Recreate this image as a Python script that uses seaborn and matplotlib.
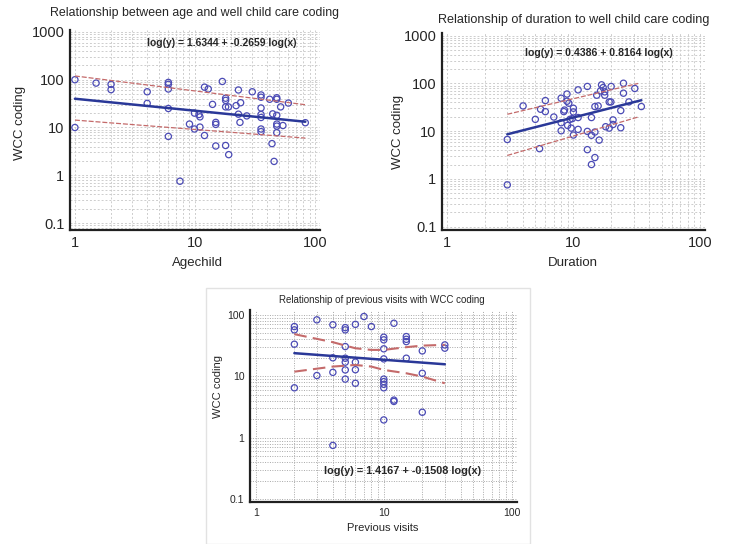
"""
WCC coding vs age, duration and previous visits (log-log fits)
"""

import numpy as np
import pandas as pd
import matplotlib as mpl
import matplotlib.pyplot as plt
import seaborn as sns

# ================================= #
# data
# ================================= #

age_x = [1, 1, 1.5, 2, 2, 4, 4, 6, 6, 6, 6, 6, 7.5, 9, 9.9, 9.9, 10.8, 11, 11, 12,
         12, 12.9, 14, 14.9, 14.9, 14.9, 16.9, 18, 18, 18, 18, 19, 19.1, 22, 23, 23,
         23.7, 24, 27, 30, 35.5, 35.5, 35.5, 35.5, 35.5, 35.5, 35.5, 41.9, 43.8, 44.4,
         45.6, 48, 48, 48, 48, 48, 48, 51.7, 54, 60, 83]
age_y = [100, 10, 85, 80, 62, 56, 32, 88, 80, 64, 25, 6.5, 0.75, 11.8, 20, 9.3, 18.7,
         16.7, 10.2, 70, 6.8, 64, 30.5, 12.8, 11.6, 4.1, 92, 41, 37, 27, 4.2, 27, 2.7,
         28.7, 61, 19, 12.8, 33, 17.5, 56, 48, 43, 25.6, 18.7, 16.2, 9.3, 8.2, 39, 4.6,
         19.3, 1.95, 42, 39, 18, 11.8, 10.7, 7.8, 27, 11, 32.5, 12.6]
age_fit_x = [1, 83]
age_fit_y = [40, 13.2]
age_upper = [120, 30]
age_lower = [14.3, 6.0]

dur_x = [3, 3, 4, 5, 5.4, 5.5, 6, 6, 7, 8, 8, 8, 8.4, 8.5, 8.9, 8.9, 9, 9.2, 9.4, 9.6,
         9.8, 10, 10, 10, 10.9, 10.9, 10.9, 12.9, 12.9, 12.9, 13.9, 13.9, 13.9, 14.8,
         14.8, 14.8, 15.3, 15.7, 16, 16.4, 16.7, 17.2, 17.7, 17.7, 18, 19.2, 19.2, 19.8,
         19.9, 20.6, 20.6, 23.7, 23.7, 24.9, 24.9, 27.5, 30.6, 34.5]
dur_y = [6.7, 0.75, 33.8, 17.7, 4.3, 28.8, 43.8, 25.7, 19.8, 49, 15, 10.2, 25.7, 27.7,
         60, 42.4, 13.2, 38.5, 17.7, 11.6, 18.3, 30.2, 25.3, 8.3, 73.4, 19.3, 10.9, 86.5,
         9.9, 4.1, 19.3, 8.2, 2.0, 32.8, 9.6, 2.8, 56.7, 33.8, 6.5, 70, 93.5, 82, 66.7,
         56.7, 12.4, 41, 11.6, 41, 86.5, 13.8, 17.2, 27, 11.8, 101, 62.5, 41, 78.5, 32.8]
dur_fit_x = [3, 34.5]
dur_fit_y = [8.6, 44.5]
dur_band_x = [3, 32.5]
dur_upper = [22.6, 100]
dur_lower = [3.1, 19.8]

vis_x = [2, 2, 2, 2, 3, 3, 4, 4, 4, 4, 5, 5, 5, 5, 5, 5, 5, 6, 6, 6, 6, 7, 8, 10, 10,
         10, 10, 10, 10, 10, 10, 10, 12, 12, 12, 15, 15, 15, 15, 20, 20, 20, 30, 30]
vis_y = [64.5, 57, 33.3, 6.5, 83, 10.3, 69, 20, 11.6, 0.75, 62, 57, 30.5, 19.7, 17,
         12.7, 9.0, 70, 17, 12.8, 7.7, 94, 64.5, 43.3, 39.2, 28, 19.2, 9.0, 8.2, 7.4,
         6.5, 1.95, 73, 4.1, 3.9, 44.3, 40, 36.7, 19.7, 25.9, 11.2, 2.6, 32.4, 28.7]
vis_fit_x = [2, 30]
vis_fit_y = [23.8, 15.7]
vis_band_x = [2, 4, 6, 8, 10, 15, 20, 30]
vis_upper = [48.5, 35.9, 28.6, 26.9, 26.9, 29.8, 31.6, 32.5]
vis_lower = [11.9, 14.4, 15.3, 14.4, 12.7, 11.2, 9.9, 7.7]

# ================================= #
# style
# ================================= #

sns.set_style('white')
plt.rcParams['font.family'] = ['Liberation Sans', 'DejaVu Sans']
mpl.rcParams['axes.unicode_minus'] = False

pt_color = '#4b4bb5'
fit_color = '#2a3898'
band_color = '#c46a6a'

fig = plt.figure(figsize=(7.5, 5.44), dpi=100)
W, H = 750., 544.


def px_axes(l, t, r, b):
    return fig.add_axes([l / W, 1 - b / H, (r - l) / W, (b - t) / H])


def setup_log(ax, xlim, ylim, yticks, fs, gridls, gridcol):
    ax.set_xscale('log')
    ax.set_yscale('log')
    ax.set(xlim=xlim, ylim=ylim)
    ax.set_xticks([1, 10, 100])
    ax.set_yticks(yticks)
    fmt = mpl.ticker.FuncFormatter(lambda v, pos: '{:g}'.format(v))
    ax.xaxis.set_major_formatter(fmt)
    ax.yaxis.set_major_formatter(fmt)
    ax.xaxis.set_minor_formatter(mpl.ticker.NullFormatter())
    ax.yaxis.set_minor_formatter(mpl.ticker.NullFormatter())
    ax.tick_params(which='both', direction='in', labelsize=fs, length=3,
                   width=0.8, pad=4)
    ax.tick_params(which='minor', length=2)
    ax.grid(True, which='both', linestyle=gridls, color=gridcol, linewidth=0.7)
    for side in ['top', 'right']:
        ax.spines[side].set_visible(False)
    for side in ['left', 'bottom']:
        ax.spines[side].set_color('#202020')
        ax.spines[side].set_linewidth(1.6)


def draw_panel(ax, x, y, fit_x, fit_y, band_x, up, lo, band_lw, band_ls):
    sns.scatterplot(x=x, y=y, ax=ax, marker='o', s=20, facecolor='none',
                    edgecolor=pt_color, linewidth=0.9, zorder=3)
    sns.lineplot(x=fit_x, y=fit_y, ax=ax, color=fit_color, linewidth=1.8, zorder=4)
    sns.lineplot(x=band_x, y=up, ax=ax, color=band_color, linewidth=band_lw,
                 linestyle=band_ls, zorder=4)
    sns.lineplot(x=band_x, y=lo, ax=ax, color=band_color, linewidth=band_lw,
                 linestyle=band_ls, zorder=4)


# ================================= #
# AGE
# ================================= #

ax1 = px_axes(70, 30, 320, 230)
setup_log(ax1, [0.91, 110], [0.0714, 1100], [0.1, 1, 10, 100, 1000], 10.5,
          (0, (2, 2)), '#cdcdcd')
draw_panel(ax1, age_x, age_y, age_fit_x, age_fit_y, age_fit_x, age_upper,
           age_lower, 0.9, (0, (4, 1.5)))
ax1.text(0.608, 0.935, 'log(y) = 1.6344 + -0.2659 log(x)', transform=ax1.transAxes,
         ha='center', va='center', fontsize=7.5, fontweight='bold')
ax1.set_xlabel('Agechild', fontsize=9.5, va='center')
ax1.set_ylabel('WCC coding', fontsize=9.5, va='center')
ax1.xaxis.set_label_coords(0.508, -0.165)
ax1.yaxis.set_label_coords(-0.2, 0.535)
fig.text(195 / W, 1 - 13 / H, 'Relationship between age and well child care coding',
         ha='center', va='center', fontsize=8.9)

# ================================= #
# DURATION
# ================================= #

ax2 = px_axes(442, 33, 705, 230)
setup_log(ax2, [0.913, 110], [0.085, 1140], [0.1, 1, 10, 100, 1000], 10.5,
          (0, (2, 2)), '#cdcdcd')
draw_panel(ax2, dur_x, dur_y, dur_fit_x, dur_fit_y, dur_band_x, dur_upper,
           dur_lower, 0.9, (0, (4, 1.5)))
ax2.text(0.597, 0.898, 'log(y) = 0.4386 + 0.8164 log(x)', transform=ax2.transAxes,
         ha='center', va='center', fontsize=7.6, fontweight='bold')
ax2.set_xlabel('Duration', fontsize=9.5, va='center')
ax2.set_ylabel('WCC coding', fontsize=9.5, va='center')
ax2.xaxis.set_label_coords(0.498, -0.1675)
ax2.yaxis.set_label_coords(-0.167, 0.497)
fig.text(574 / W, 1 - 20 / H, 'Relationship of duration to well child care coding',
         ha='center', va='center', fontsize=9.1)

# ================================= #
# PREVIOUS VISITS
# ================================= #

# faint frame round the lower panel
fig.patches.append(mpl.patches.Rectangle((206 / W, 0.0), (530 - 206) / W, 1 - 288 / H,
                                         transform=fig.transFigure, fill=False,
                                         edgecolor='#e2e2e2', linewidth=1))

ax3 = px_axes(250, 310, 517, 502)
setup_log(ax3, [0.9, 110], [0.09, 120], [0.1, 1, 10, 100], 7.5,
          (0, (1, 1.5)), '#a8a8a8')
draw_panel(ax3, vis_x, vis_y, vis_fit_x, vis_fit_y, vis_band_x, vis_upper,
           vis_lower, 1.5, (0, (6, 3)))
ax3.text(0.573, 0.161, 'log(y) = 1.4167 + -0.1508 log(x)', transform=ax3.transAxes,
         ha='center', va='center', fontsize=7.8, fontweight='bold')
ax3.set_xlabel('Previous visits', fontsize=8, va='center')
ax3.set_ylabel('WCC coding', fontsize=8, va='center')
ax3.xaxis.set_label_coords(0.498, -0.135)
ax3.yaxis.set_label_coords(-0.12, 0.6)
fig.text(382 / W, 1 - 300 / H, 'Relationship of previous visits with WCC coding',
         ha='center', va='center', fontsize=7.0)

fig.savefig('out.png', dpi=100)
